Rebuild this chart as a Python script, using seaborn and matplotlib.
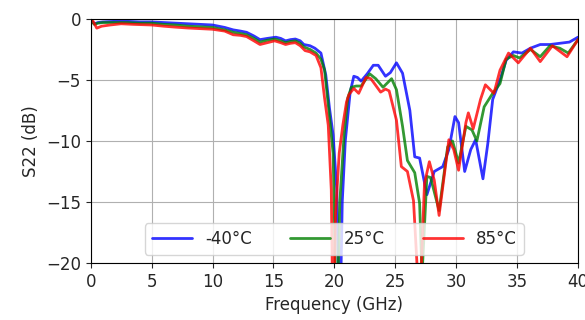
"""
S22 vs frequency at three temperatures.
"""

import matplotlib

matplotlib.use("Agg")
import matplotlib.pyplot as plt
import pandas as pd
import seaborn as sns

# ------------------------------------------------------------------------------
# Data
# ------------------------------------------------------------------------------
freq_m40 = [0, 0.3, 0.6, 1.0, 2.0, 3.0, 4.0, 5.0, 6.0, 7.0, 8.0, 9.0, 10.0, 11.0,
            11.7, 12.3, 12.8, 13.4, 13.9, 14.5, 15.2, 15.6, 16.0, 16.4, 16.8, 17.2,
            17.5, 18.0, 18.4, 18.9, 19.3, 19.6, 19.9, 20.2, 20.45, 20.65, 20.9,
            21.3, 21.6, 21.9, 22.2, 22.7, 23.2, 23.6, 24.2, 24.6, 25.1, 25.6, 26.2,
            26.6, 27.0, 27.2, 27.6, 28.2, 28.9, 29.4, 29.9, 30.2, 30.7, 31.2, 31.6,
            32.2, 32.6, 33.0, 33.6, 34.1, 34.7, 35.4, 36.1, 36.9, 37.7, 38.5, 39.3,
            40.0]
s22_m40 = [-0.1, -0.4, -0.3, -0.25, -0.2, -0.2, -0.25, -0.25, -0.3, -0.35, -0.4,
           -0.45, -0.5, -0.7, -0.9, -1.0, -1.1, -1.4, -1.7, -1.6, -1.5, -1.6, -1.8,
           -1.7, -1.65, -1.8, -2.1, -2.2, -2.4, -2.8, -4.6, -7.3, -9.5, -14.0, -26.0,
           -15.0, -10.0, -6.0, -4.7, -4.8, -5.1, -4.5, -3.8, -3.8, -4.7, -4.4, -3.6,
           -4.45, -7.5, -11.3, -11.4, -12.4, -14.4, -12.5, -12.1, -10.7, -8.0, -8.5,
           -12.5, -10.7, -9.9, -13.1, -10.2, -6.6, -5.0, -3.4, -2.7, -2.8, -2.4,
           -2.1, -2.1, -2.0, -1.9, -1.5]

freq_25 = [0, 0.3, 0.6, 1.0, 2.0, 3.0, 4.0, 5.0, 6.0, 7.0, 8.0, 9.0, 10.0, 11.0,
           11.7, 12.3, 12.8, 13.4, 13.9, 14.5, 15.1, 15.6, 16.0, 16.4, 16.8, 17.2,
           17.5, 18.0, 18.5, 18.9, 19.2, 19.55, 19.9, 20.2, 20.45, 20.8, 21.1, 21.4,
           21.8, 22.2, 22.9, 23.4, 24.0, 24.7, 25.1, 25.6, 26.0, 26.6, 27.0, 27.2,
           27.6, 27.9, 28.6, 29.3, 29.7, 30.2, 30.8, 31.3, 31.7, 32.3, 33.0, 33.6,
           34.1, 34.7, 35.2, 36.1, 36.9, 37.7, 38.5, 39.2, 40.0]
s22_25 = [-0.1, -0.45, -0.35, -0.3, -0.3, -0.3, -0.35, -0.35, -0.45, -0.5, -0.6,
          -0.65, -0.7, -0.9, -1.1, -1.2, -1.3, -1.6, -1.9, -1.75, -1.65, -1.8, -1.95,
          -1.85, -1.8, -2.0, -2.3, -2.5, -2.8, -3.3, -4.2, -7.5, -11.0, -26.0, -15.0,
          -9.5, -6.5, -5.6, -5.5, -5.5, -4.5, -4.9, -5.6, -4.9, -5.8, -8.8, -11.6,
          -12.6, -15.1, -21.0, -12.9, -13.0, -15.7, -10.5, -10.0, -11.8, -8.8, -9.1,
          -10.0, -7.2, -6.1, -5.3, -3.3, -3.0, -3.2, -2.5, -3.1, -2.2, -2.4, -2.8,
          -1.7]

freq_85 = [0, 0.2, 0.5, 0.9, 1.6, 2.5, 3.5, 5.0, 6.0, 7.0, 8.0, 9.0, 10.0, 11.0,
           11.7, 12.3, 12.8, 13.4, 13.9, 14.5, 15.1, 15.6, 16.0, 16.4, 16.8, 17.2,
           17.6, 18.0, 18.5, 18.9, 19.2, 19.5, 19.75, 19.9, 20.1, 20.4, 20.7, 21.0,
           21.2, 21.6, 22.0, 22.6, 23.0, 23.8, 24.2, 24.5, 25.1, 25.5, 26.0, 26.5,
           27.0, 27.4, 27.8, 28.2, 28.6, 29.0, 29.4, 29.8, 30.2, 30.8, 31.0, 31.4,
           32.0, 32.4, 33.1, 33.6, 34.3, 35.1, 36.1, 36.9, 37.9, 39.1, 40.0]
s22_85 = [-0.1, -0.2, -0.76, -0.6, -0.5, -0.4, -0.45, -0.5, -0.6, -0.68, -0.75,
          -0.8, -0.85, -1.0, -1.3, -1.35, -1.45, -1.8, -2.1, -1.95, -1.8, -1.95,
          -2.1, -2.0, -1.95, -2.2, -2.6, -2.7, -3.0, -4.0, -6.5, -8.7, -14.0, -26.0,
          -16.0, -11.0, -8.7, -6.8, -6.2, -5.7, -6.1, -4.8, -4.9, -6.0, -5.75, -5.9,
          -8.3, -12.1, -12.5, -14.9, -24.0, -13.5, -11.7, -13.2, -16.1, -13.0, -9.9,
          -10.7, -12.4, -8.5, -7.7, -9.0, -6.6, -5.4, -6.1, -4.2, -2.8, -3.6, -2.4,
          -3.5, -2.2, -3.1, -1.7]

labels = ["-40°C", "25°C", "85°C"]
colors = ["b", "g", "r"]

# ------------------------------------------------------------------------------
# Long-form table for seaborn
# ------------------------------------------------------------------------------
frames = []
for lab, f, s in zip(labels, [freq_m40, freq_25, freq_85], [s22_m40, s22_25, s22_85]):
    frames.append(pd.DataFrame({"Frequency": f, "S22": s, "Temp": lab}))
df = pd.concat(frames, ignore_index=True)

# ------------------------------------------------------------------------------
# Plot
# ------------------------------------------------------------------------------
sns.set_style("ticks")
plt.rcParams["font.family"] = ["DejaVu Sans"]
plt.rcParams["font.size"] = 12

fig = plt.figure(figsize=(5.85, 3.2), dpi=100)
ax = fig.add_axes([0.155, 0.178, 0.833, 0.763])

sns.lineplot(
    data=df,
    x="Frequency",
    y="S22",
    hue="Temp",
    hue_order=labels,
    palette=dict(zip(labels, colors)),
    estimator=None,
    sort=False,
    linewidth=2,
    alpha=0.8,
    ax=ax,
)

ax.set_xlim(0, 40)
ax.set_ylim(-20, 0)
ax.set_xticks(range(0, 41, 5))
ax.set_yticks(range(-20, 1, 5))
ax.grid(True, color="#b0b0b0", linewidth=0.8)
for sp in ax.spines.values():
    sp.set_visible(True)
    sp.set_color("black")
    sp.set_linewidth(0.8)
ax.tick_params(labelsize=12, length=3.5, width=0.8)
ax.set_xlabel("Frequency (GHz)", fontsize=12)
ax.set_ylabel("S22 (dB)", fontsize=12)

ax.legend(
    loc="lower center",
    ncol=3,
    handlelength=2.4,
    handletextpad=0.8,
    columnspacing=2.3,
    fontsize=12,
)

fig.savefig("out.png", dpi=100)
